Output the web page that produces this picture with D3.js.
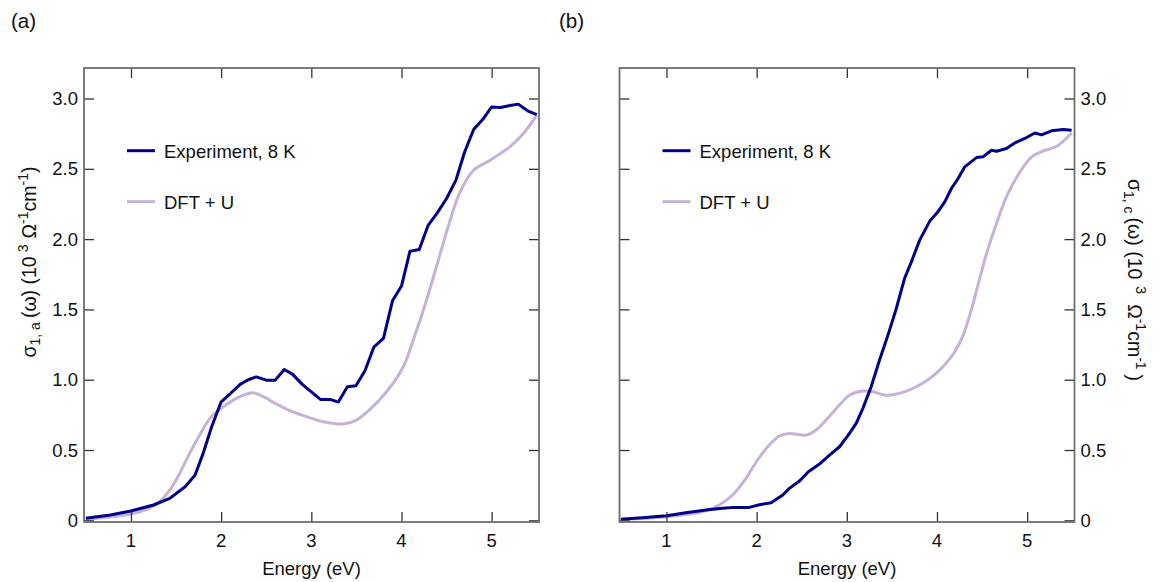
<!DOCTYPE html>
<html><head><meta charset="utf-8">
<script src="https://cdn.jsdelivr.net/npm/d3@7"></script>
<style>body{margin:0;background:#fff}svg{display:block}text{font-family:"Liberation Sans",Arial,Helvetica,sans-serif;fill:#111}</style>
</head><body>
<svg id="c" width="1159" height="582"></svg>
<script>
// ---- data ----
const xTicks = [1, 2, 3, 4, 5];
const yTicks = [0, 0.5, 1.0, 1.5, 2.0, 2.5, 3.0];
const yTickLabels = ["0", "0.5", "1.0", "1.5", "2.0", "2.5", "3.0"];
const legendLabels = ["Experiment, 8 K", "DFT + U"];

const expA = [[0.50,0.014],[0.77,0.038],[1.00,0.066],[1.25,0.109],[1.43,0.156],[1.60,0.239],[1.71,0.32],[1.80,0.476],[1.895,0.666],[2.00,0.843],[2.10,0.90],[2.21,0.967],[2.30,1.00],[2.39,1.02],[2.50,0.997],[2.60,0.997],[2.70,1.073],[2.79,1.04],[2.90,0.967],[3.00,0.914],[3.10,0.86],[3.21,0.86],[3.30,0.841],[3.40,0.95],[3.495,0.957],[3.595,1.064],[3.695,1.234],[3.80,1.294],[3.90,1.561],[4.00,1.666],[4.094,1.914],[4.197,1.926],[4.297,2.10],[4.397,2.187],[4.50,2.289],[4.604,2.42],[4.70,2.62],[4.80,2.78],[4.90,2.85],[5.00,2.94],[5.10,2.936],[5.203,2.95],[5.295,2.96],[5.406,2.91],[5.50,2.886]];
const dftA = [[0.50,0.009],[0.80,0.026],[1.00,0.045],[1.174,0.078],[1.303,0.125],[1.43,0.215],[1.54,0.334],[1.65,0.476],[1.765,0.611],[1.876,0.725],[1.987,0.789],[2.135,0.855],[2.245,0.89],[2.356,0.907],[2.467,0.879],[2.615,0.827],[2.763,0.78],[2.948,0.737],[3.133,0.701],[3.355,0.685],[3.50,0.713],[3.65,0.789],[3.835,0.914],[4.02,1.092],[4.13,1.28],[4.28,1.57],[4.43,1.898],[4.54,2.135],[4.65,2.336],[4.80,2.49],[4.98,2.56],[5.20,2.656],[5.35,2.75],[5.50,2.88]];
const expC = [[0.493,0.007],[0.733,0.019],[1.00,0.033],[1.215,0.054],[1.438,0.073],[1.622,0.085],[1.752,0.092],[1.919,0.092],[2.03,0.111],[2.16,0.125],[2.29,0.18],[2.363,0.227],[2.474,0.279],[2.574,0.345],[2.697,0.40],[2.808,0.464],[2.919,0.523],[3.01,0.60],[3.104,0.69],[3.178,0.796],[3.27,0.95],[3.363,1.14],[3.456,1.317],[3.549,1.507],[3.64,1.72],[3.716,1.838],[3.808,1.993],[3.92,2.128],[4.01,2.194],[4.086,2.265],[4.16,2.36],[4.234,2.431],[4.308,2.514],[4.438,2.58],[4.51,2.585],[4.604,2.632],[4.66,2.625],[4.77,2.644],[4.863,2.684],[4.974,2.716],[5.085,2.755],[5.16,2.741],[5.27,2.77],[5.40,2.78],[5.493,2.775]];
const dftC = [[0.493,0.007],[1.00,0.026],[1.438,0.068],[1.585,0.109],[1.733,0.18],[1.882,0.299],[2.01,0.429],[2.14,0.535],[2.252,0.60],[2.363,0.618],[2.548,0.606],[2.66,0.642],[2.77,0.713],[2.919,0.82],[3.03,0.89],[3.178,0.919],[3.29,0.914],[3.438,0.89],[3.622,0.91],[3.77,0.95],[3.92,1.009],[4.066,1.092],[4.197,1.199],[4.29,1.317],[4.38,1.495],[4.465,1.70],[4.55,1.898],[4.66,2.111],[4.77,2.30],[4.92,2.478],[5.05,2.585],[5.18,2.627],[5.327,2.66],[5.493,2.755]];

// ---- drawing ----
const svg = d3.select("#c");
const EXP_COLOR = "#00008a", DFT_COLOR = "#c6b1d9";
const pTop = 68, pBottom = 522, W = 455;
const y = d3.scaleLinear().domain([-0.012, 3.217]).range([pBottom, pTop]);

function panel(left, expData, dftData, side, label) {
  const x = d3.scaleLinear().domain([0.479, 5.525]).range([left, left + W]);
  const g = svg.append("g");
  const clipId = "clip" + side;
  svg.append("clipPath").attr("id", clipId).append("rect")
    .attr("x", left).attr("y", pTop).attr("width", W).attr("height", pBottom - pTop);

  g.append("path").datum(dftData)
    .attr("d", d3.line().x(d => x(d[0])).y(d => y(d[1])).curve(d3.curveCatmullRom.alpha(0.5)))
    .attr("fill", "none").attr("stroke", DFT_COLOR).attr("stroke-width", 3)
    .attr("clip-path", `url(#${clipId})`);
  g.append("path").datum(expData)
    .attr("d", d3.line().x(d => x(d[0])).y(d => y(d[1])))
    .attr("fill", "none").attr("stroke", EXP_COLOR).attr("stroke-width", 3)
    .attr("stroke-linejoin", "round")
    .attr("clip-path", `url(#${clipId})`);

  const tk = 10, tc = "#333";
  const axB = d3.axisTop(x).tickValues(xTicks).tickSize(tk).tickFormat("");
  const axT = d3.axisBottom(x).tickValues(xTicks).tickSize(tk).tickFormat("");
  const axL = d3.axisRight(y).tickValues(yTicks).tickSize(tk).tickFormat("");
  const axR = d3.axisLeft(y).tickValues(yTicks).tickSize(tk).tickFormat("");
  [[axB, `translate(0,${pBottom})`], [axT, `translate(0,${pTop})`],
   [axL, `translate(${left},0)`], [axR, `translate(${left + W},0)`]].forEach(([a, t]) => {
    const ga = g.append("g").attr("transform", t).call(a);
    ga.select(".domain").remove();
    ga.selectAll("line").attr("stroke", tc).attr("stroke-width", 1.3);
  });
  g.append("rect").attr("x", left).attr("y", pTop).attr("width", W).attr("height", pBottom - pTop)
    .attr("fill", "none").attr("stroke", "#6e6e6e").attr("stroke-width", 1.8);

  g.selectAll(".xl").data(xTicks).enter().append("text")
    .attr("x", d => x(d)).attr("y", pBottom + 25).attr("text-anchor", "middle")
    .attr("font-size", 18.5).text(d => d);
  g.selectAll(".yl").data(yTicks).enter().append("text")
    .attr("x", side === "a" ? left - 6 : left + W + 6)
    .attr("y", d => y(d) + 6.5)
    .attr("text-anchor", side === "a" ? "end" : "start")
    .attr("font-size", 18.5).text((d, i) => yTickLabels[i]);

  g.append("text").attr("x", left + W / 2).attr("y", 575).attr("text-anchor", "middle")
    .attr("font-size", 18.5).text("Energy (eV)");

  const lx = left + 43;
  [[EXP_COLOR, 150.7], [DFT_COLOR, 201.7]].forEach(([c, ly], i) => {
    g.append("line").attr("x1", lx).attr("x2", lx + 28).attr("y1", ly).attr("y2", ly)
      .attr("stroke", c).attr("stroke-width", 3);
    g.append("text").attr("x", lx + 37).attr("y", ly + 6.8).attr("font-size", 18.5).text(legendLabels[i]);
  });

  svg.append("text").attr("x", side === "a" ? 11 : 559).attr("y", 28).attr("font-size", 20.5).text(label);

  const sub = side === "a" ? "1, a" : "1, c";
  const gap1 = side === "a" ? 4 : 7, gap2 = side === "a" ? 6 : 10, gap3 = side === "a" ? 0 : 5;
  let t;
  if (side === "a") t = g.append("text").attr("transform", "translate(36,262) rotate(-90)");
  else t = g.append("text").attr("transform", "translate(1128,280) rotate(90)");
  t.attr("text-anchor", "middle").attr("font-size", 19.5);
  t.append("tspan").text("σ");
  t.append("tspan").attr("font-size", 14).attr("dy", 4).text("1, " + sub.slice(3));
  t.append("tspan").attr("dy", -4).attr("dx", 4).text("(ω) (10");
  t.append("tspan").attr("font-size", 14).attr("dy", -8).attr("dx", gap1).text("3");
  t.append("tspan").attr("dy", 8).attr("dx", gap2).text("Ω");
  t.append("tspan").attr("font-size", 14).attr("dy", -8).text("-1");
  t.append("tspan").attr("dy", 8).text("cm");
  t.append("tspan").attr("font-size", 14).attr("dy", -8).text("-1");
  t.append("tspan").attr("dy", 8).attr("dx", gap3).text(")");
}

panel(84, expA, dftA, "a", "(a)");
panel(619.5, expC, dftC, "b", "(b)");
</script>
</body></html>
